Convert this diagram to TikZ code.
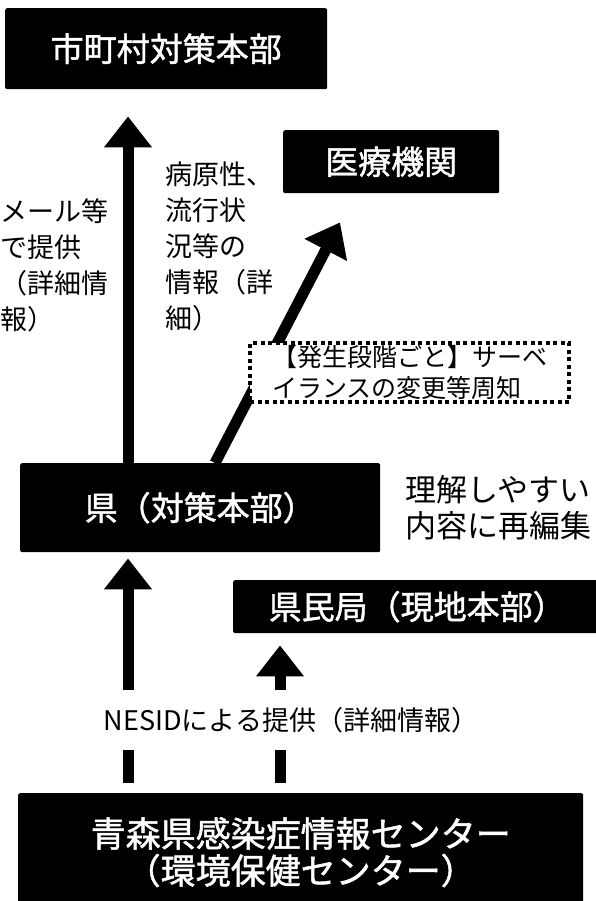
\documentclass[tikz,border=0pt]{standalone}
\usepackage{fontspec}
\setmainfont{Noto Sans CJK JP}
\newfontfamily\hutoji{Noto Sans CJK JP}[FakeBold=1.4]
\usetikzlibrary{arrows.meta}
\tikzstyle{honbu} = [fill=black, text=white, rounded corners=2pt, anchor=north west, inner sep=0pt, font=\hutoji\fontsize{33}{38}\selectfont]
\tikzstyle{setsumei} = [anchor=north west, inner sep=0pt, align=left, font=\fontsize{27}{36}\selectfont]
\tikzstyle{shuchi} = [draw=black, fill=white, line width=4pt, dash pattern=on 4pt off 3.5pt, anchor=north west, inner sep=0pt, align=left, font=\fontsize{25}{31}\selectfont]
\tikzstyle{yajirushi} = [line width=11pt, -{Triangle[width=46pt,length=31pt]}]

\begin{document}
\begin{tikzpicture}[x=1pt,y=-1pt]
	\useasboundingbox (0,0) rectangle (596,901);
	\node[honbu, minimum width=322pt, minimum height=81pt] (shichoson) at (5,8) {市町村対策本部};
	\node[honbu, minimum width=216pt, minimum height=63pt] (iryo) at (283,130) {医療機関};
	\node[honbu, minimum width=360pt, minimum height=89pt] (ken) at (20,463) {県（対策本部）};
	\node[honbu, minimum width=368pt, minimum height=53pt] (kenmin) at (233,580) {県民局（現地本部）};
	\node[honbu, minimum width=565pt, minimum height=118pt, align=center, font=\hutoji\fontsize{35}{37}\selectfont] (center) at (18,793) {青森県感染症情報センター\\（環境保健センター）};

	\node[setsumei] (mail) at (0,198) {メール等\\で提供\\（詳細情\\報）};
	\node[setsumei] (byogen) at (165,162) {病原性、\\流行状\\況等の\\情報（詳\\細）};
	\node[setsumei, font=\fontsize{31}{36}\selectfont] (rikai) at (405,475) {理解しやすい\\内容に再編集};

	\draw[yajirushi, shorten >=27pt] ([xshift=108pt]ken.north west) -- ([xshift=108pt]ken.north west |- shichoson.south);
	\draw[yajirushi] ([xshift=195pt]ken.north west) -- ([xshift=57pt,yshift=-29pt]iryo.south west);
	\draw[yajirushi, shorten <=10pt, shorten >=6pt] ([xshift=110pt]center.north west) -- ([xshift=110pt]center.north west |- ken.south);
	\draw[yajirushi, shorten <=10pt, shorten >=12pt] ([xshift=262pt]center.north west) -- ([xshift=262pt]center.north west |- kenmin.south);

	\node[shuchi, minimum width=319pt, minimum height=59pt] (henko) at (248,341) {【発生段階ごと】サーベ\\イランスの変更等周知};
	\node[fill=white, minimum height=60pt, inner xsep=0pt, font=\fontsize{27}{30}\selectfont] (nesid) at (291,720) {NESIDによる提供（詳細情報）};
\end{tikzpicture}
\end{document}
